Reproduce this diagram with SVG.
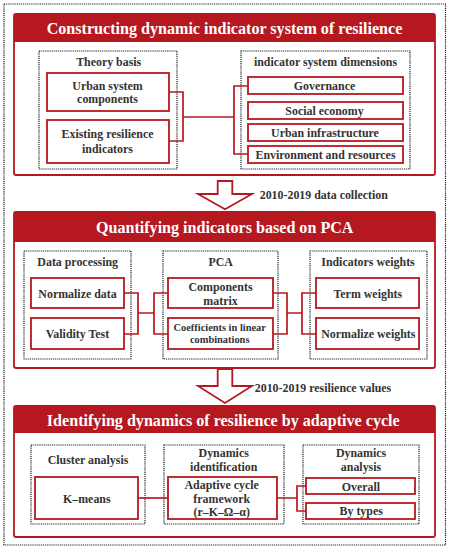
<svg xmlns="http://www.w3.org/2000/svg" width="449" height="550" viewBox="0 0 449 550" font-family="Liberation Serif, Times New Roman, DejaVu Serif, serif">
<style>
text{font-weight:bold;fill:#333;text-anchor:middle}
.title{fill:#ffffff;font-size:16.1px}
.lbl{font-size:11.9px}
.sm{font-size:10.4px}
.box{fill:#fff;stroke:#b5191f;stroke-width:1.8}
.sec{fill:#fff;stroke:#b5191f;stroke-width:1.8}
.hdr{fill:#b5191f}
.dot{fill:none;stroke:#222;stroke-width:1.2;stroke-dasharray:1.2 0.9}
.con{fill:none;stroke:#b5191f;stroke-width:1.7}
.arr{fill:#fff;stroke:#b5191f;stroke-width:1.8}
</style>
<rect x="0" y="0" width="449" height="550" fill="#fff"/>
<rect class="dot" x="4" y="4" width="441.5" height="541"/>

<g id="section1">
<rect class="sec" x="14" y="14" width="421" height="161" rx="2"/>
<rect class="hdr" x="14" y="14" width="421" height="28"/>
<text class="title" x="224.5" y="34.3">Constructing dynamic indicator system of resilience</text>
</g>
<g id="theory-basis">
<rect class="dot" x="39" y="51" width="138" height="118"/>
<text class="lbl" x="108.7" y="66">Theory basis</text>
</g>
<g id="urban-system-components">
<rect class="box" x="47" y="73" width="122" height="38"/>
<text class="lbl" x="107.5" y="90">Urban system</text>
<text class="lbl" x="107.5" y="102.7">components</text>
</g>
<g id="existing-resilience-indicators">
<rect class="box" x="47" y="120" width="122" height="43"/>
<text class="lbl" x="107.5" y="138.3">Existing resilience</text>
<text class="lbl" x="107.5" y="152.7">indicators</text>
</g>
<g id="indicator-system-dimensions">
<rect class="dot" x="241" y="51" width="169" height="118"/>
<text class="lbl" x="325.5" y="66">indicator system dimensions</text>
</g>
<g id="governance">
<rect class="box" x="248" y="77" width="155" height="17"/>
<text class="lbl" x="324.5" y="90.3">Governance</text>
</g>
<g id="social-economy">
<rect class="box" x="248" y="102" width="155" height="17"/>
<text class="lbl" x="324.5" y="114.7">Social economy</text>
</g>
<g id="urban-infrastructure">
<rect class="box" x="248" y="124" width="155" height="17"/>
<text class="lbl" x="325" y="136.5">Urban infrastructure</text>
</g>
<g id="environment-and-resources">
<rect class="box" x="248" y="146" width="155" height="17"/>
<text class="lbl" x="325.5" y="159">Environment and resources</text>
</g>

<g id="arrow1">
<polygon class="arr" points="217.7,181 232.3,181 232.3,194 252,194 225,209.3 198,194 217.7,194"/>
<text class="lbl" x="323.8" y="199.3">2010-2019 data collection</text>
</g>

<g id="section2">
<rect class="sec" x="14" y="212" width="421" height="156" rx="2"/>
<rect class="hdr" x="14" y="212" width="421" height="30"/>
<text class="title" x="224.7" y="233.3">Quantifying indicators based on PCA</text>
</g>
<g id="data-processing">
<rect class="dot" x="24" y="251" width="107" height="108"/>
<text class="lbl" x="77.7" y="266">Data processing</text>
</g>
<g id="normalize-data">
<rect class="box" x="31" y="278" width="93" height="30"/>
<text class="lbl" x="77.5" y="297.5">Normalize data</text>
</g>
<g id="validity-test">
<rect class="box" x="31" y="318" width="93" height="31"/>
<text class="lbl" x="77.5" y="338.3">Validity Test</text>
</g>
<g id="pca">
<rect class="dot" x="163" y="251" width="115" height="108"/>
<text class="lbl" x="220.7" y="266">PCA</text>
</g>
<g id="components-matrix">
<rect class="box" x="168" y="278" width="105" height="30"/>
<text class="lbl" x="220.5" y="291">Components</text>
<text class="lbl" x="220.5" y="305">matrix</text>
</g>
<g id="coefficients">
<rect class="box" x="168" y="318" width="105" height="31"/>
<text class="sm" x="219.7" y="330.7">Coefficients in linear</text>
<text class="sm" x="219.7" y="343.3">combinations</text>
</g>
<g id="indicators-weights">
<rect class="dot" x="310" y="251" width="117" height="108"/>
<text class="lbl" x="368" y="266">Indicators weights</text>
</g>
<g id="term-weights">
<rect class="box" x="316" y="278" width="103" height="30"/>
<text class="lbl" x="367.8" y="297.5">Term weights</text>
</g>
<g id="normalize-weights">
<rect class="box" x="316" y="318" width="103" height="31"/>
<text class="lbl" x="368.3" y="338.3">Normalize weights</text>
</g>

<g id="arrow2">
<polygon class="arr" points="217.7,369 232.3,369 232.3,386 252,386 225,403 198,386 217.7,386"/>
<text class="lbl" x="323" y="391.7">2010-2019 resilience values</text>
</g>

<g id="section3">
<rect class="sec" x="14" y="406" width="421" height="131" rx="2"/>
<rect class="hdr" x="14" y="406" width="421" height="27"/>
<text class="title" x="223.3" y="425.7">Identifying dynamics of resilience by adaptive cycle</text>
</g>
<g id="cluster-analysis">
<rect class="dot" x="31" y="445" width="114" height="79"/>
<text class="lbl" x="88" y="464">Cluster analysis</text>
</g>
<g id="k-means">
<rect class="box" x="35" y="477" width="103" height="42"/>
<text class="lbl" x="86.8" y="502.7">K–means</text>
</g>
<g id="dynamics-identification">
<rect class="dot" x="164" y="445" width="120" height="79"/>
<text class="lbl" x="223.7" y="456.7">Dynamics</text>
<text class="lbl" x="223.7" y="471">identification</text>
</g>
<g id="adaptive-cycle">
<rect class="box" x="168" y="477" width="109" height="42"/>
<text class="lbl" x="221.7" y="489.3">Adaptive cycle</text>
<text class="lbl" x="221.7" y="502.7">framework</text>
<text class="lbl" x="221.7" y="516">(r–K–Ω–α)</text>
</g>
<g id="dynamics-analysis">
<rect class="dot" x="303" y="445" width="116" height="79"/>
<text class="lbl" x="361" y="456.7">Dynamics</text>
<text class="lbl" x="361" y="471">analysis</text>
</g>
<g id="overall">
<rect class="box" x="306" y="478" width="109" height="16"/>
<text class="lbl" x="361" y="490.7">Overall</text>
</g>
<g id="by-types">
<rect class="box" x="306" y="503" width="109" height="16"/>
<text class="lbl" x="361.2" y="515.3">By types</text>
</g>

<g id="connectors">
<path class="con" d="M169,92 H183 V141 H169 M183,117 H234 M248,86 H234 V154 H248"/>
<path class="con" d="M124,293 H138 V334 H124 M138,313 H154 M168,293 H154 V334 H168"/>
<path class="con" d="M273,293 H287 V334 H273 M287,313 H302 M316,293 H302 V334 H316"/>
<path class="con" d="M138,498 H168"/>
<path class="con" d="M277,498 H297 M306,486 H297 V511 H306"/>
</g>
</svg>
